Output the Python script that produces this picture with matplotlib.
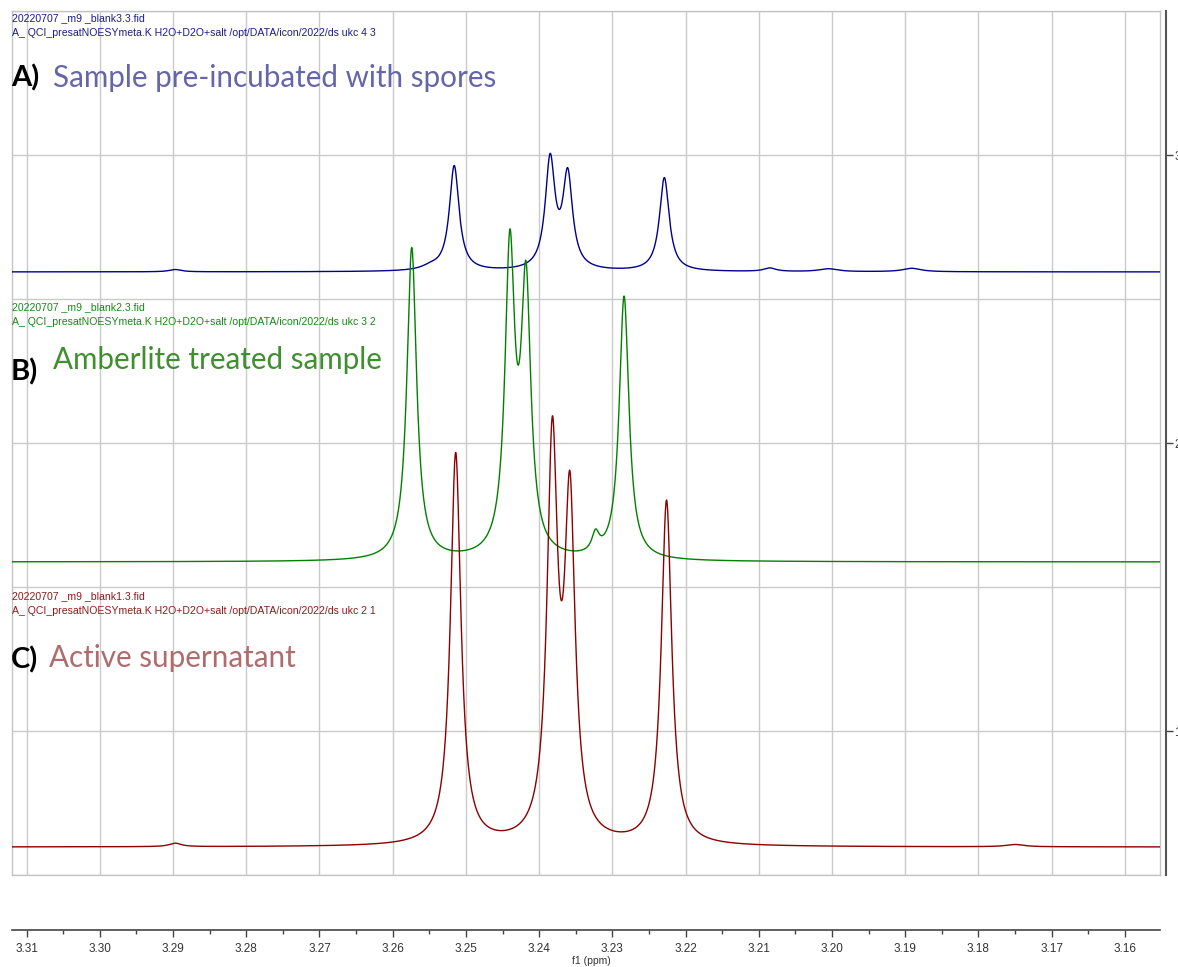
import numpy as np
import matplotlib
matplotlib.use("Agg")
import matplotlib.pyplot as plt
from matplotlib.ticker import FixedLocator, MultipleLocator

W, H = 1178, 967

# ---- axis settings -------------------------------------------------------
ppm_left, ppm_right = 3.3120, 3.1552
y_low, y_high = 0.5, 3.5
x_ticks = [3.31, 3.30, 3.29, 3.28, 3.27, 3.26, 3.25, 3.24, 3.23, 3.22,
           3.21, 3.20, 3.19, 3.18, 3.17, 3.16]
x_tick_labels = ["3.31", "3.30", "3.29", "3.28", "3.27", "3.26", "3.25", "3.24",
                 "3.23", "3.22", "3.21", "3.20", "3.19", "3.18", "3.17", "3.16"]
y_ticks = [1, 2, 3]
y_tick_labels = ["1", "2", "3"]

# ---- peak tables: centre (ppm), height, linewidth FWHM (ppm) ---------------
# A) sample pre-incubated with spores (blank3)
a_offset = 2.594
a_centres = [3.2516, 3.2385, 3.2361, 3.2229, 3.2548, 3.2085, 3.2005, 3.1891, 3.2897]
a_heights = [0.365, 0.377, 0.322, 0.325, 0.012, 0.012, 0.010, 0.012, 0.008]
a_widths = [0.0016, 0.0016, 0.0016, 0.0016, 0.0030, 0.0020, 0.0030, 0.0030, 0.0020]

# B) Amberlite treated sample (blank2)
b_offset = 1.587
b_centres = [3.2574, 3.2440, 3.2418, 3.2284, 3.2323]
b_heights = [1.085, 1.042, 0.918, 0.915, 0.065]
b_widths = [0.0016, 0.0016, 0.0016, 0.0016, 0.0012]

# C) active supernatant (blank1)
c_offset = 0.597
c_centres = [3.2514, 3.2382, 3.2358, 3.2226, 3.2897, 3.1750]
c_heights = [1.360, 1.357, 1.143, 1.195, 0.012, 0.008]
c_widths = [0.00172, 0.00172, 0.00172, 0.00172, 0.0020, 0.0030]

# ---- styling ---------------------------------------------------------------
line_colors = ["#00008b", "#008000", "#8b0000"]
header_colors = ["#1c1c8e", "#178a17", "#8e1a1a"]
title_colors = ["#6466a9", "#3f8f2f", "#b06c6c"]
file_names = ["20220707 _m9 _blank3.3.fid", "20220707 _m9 _blank2.3.fid",
              "20220707 _m9 _blank1.3.fid"]
acq_lines = ["A_ QCI_presatNOESYmeta.K H2O+D2O+salt /opt/DATA/icon/2022/ds ukc 4 3",
             "A_ QCI_presatNOESYmeta.K H2O+D2O+salt /opt/DATA/icon/2022/ds ukc 3 2",
             "A_ QCI_presatNOESYmeta.K H2O+D2O+salt /opt/DATA/icon/2022/ds ukc 2 1"]
panel_letters = ["A)", "B)", "C)"]
panel_titles = ["Sample pre-incubated with spores", "Amberlite treated sample",
                "Active supernatant"]
sans = ["Liberation Sans", "DejaVu Sans"]
title_font = ["Lato", "DejaVu Sans"]


def lorentz_sum(x, offset, centres, heights, widths):
    y = np.full_like(x, offset)
    for c, h, w in zip(centres, heights, widths):
        y += h / (1.0 + ((x - c) / (w / 2.0)) ** 2)
    return y


def fx(px):
    return px / W


def fy(py):
    return 1.0 - py / H


fig = plt.figure(figsize=(W / 100, H / 100), dpi=100)
fig.patch.set_facecolor("white")

# main spectrum panel
ax = fig.add_axes([fx(12), fy(875), fx(1160) - fx(12), fy(11) - fy(875)])
ax.set_xlim(ppm_left, ppm_right)
ax.set_ylim(y_low, y_high)
ax.xaxis.set_major_locator(FixedLocator(x_ticks))
ax.yaxis.set_major_locator(MultipleLocator(0.5))
ax.tick_params(left=False, bottom=False, labelleft=False, labelbottom=False)
ax.grid(True, color="#cacaca", linewidth=1.0)
ax.set_axisbelow(True)
for s in ax.spines.values():
    s.set_color("#c4c4c4")
    s.set_linewidth(1.0)

ppm = np.linspace(ppm_left, ppm_right, 6000)
spectra = [
    lorentz_sum(ppm, a_offset, a_centres, a_heights, a_widths),
    lorentz_sum(ppm, b_offset, b_centres, b_heights, b_widths),
    lorentz_sum(ppm, c_offset, c_centres, c_heights, c_widths),
]
for spec, col in zip(spectra, line_colors):
    ax.plot(ppm, spec, color=col, linewidth=1.0, zorder=3)

# bottom chemical-shift scale
axb = fig.add_axes([fx(12), fy(930), fx(1160) - fx(12), 0.0001])
axb.set_xlim(ppm_left, ppm_right)
axb.set_yticks([])
for k in ("left", "right", "top"):
    axb.spines[k].set_visible(False)
axb.spines["bottom"].set_color("#444444")
axb.spines["bottom"].set_linewidth(1.2)
axb.xaxis.set_major_locator(FixedLocator(x_ticks))
axb.set_xticklabels(x_tick_labels)
axb.xaxis.set_minor_locator(MultipleLocator(0.005))
axb.tick_params(axis="x", which="major", direction="out", length=5, width=1.0,
                color="#444444", labelsize=8.5, labelcolor="#333333", pad=4)
axb.tick_params(axis="x", which="minor", direction="out", length=3, width=1.0,
                color="#444444")
for lab in axb.get_xticklabels():
    lab.set_fontfamily(sans)
fig.text(fx(591), fy(961), "f1 (ppm)", fontsize=7.5, color="#333333",
         ha="center", va="center", family=sans)

# right-hand intensity scale
axr = fig.add_axes([fx(1100), fy(875), fx(1166) - fx(1100), fy(11) - fy(875)])
axr.set_ylim(y_low, y_high)
axr.set_xticks([])
axr.patch.set_visible(False)
for k in ("left", "top", "bottom"):
    axr.spines[k].set_visible(False)
axr.spines["right"].set_color("#555555")
axr.spines["right"].set_linewidth(1.5)
axr.yaxis.tick_right()
axr.yaxis.set_major_locator(FixedLocator(y_ticks))
axr.set_yticklabels(y_tick_labels)
axr.tick_params(axis="y", direction="out", length=5, width=1.0, color="#444444",
                labelsize=8.5, labelcolor="#333333", pad=1)
for lab in axr.get_yticklabels():
    lab.set_fontfamily(sans)

# dataset headers and panel titles
header_y = [18, 307, 596]
title_y = [78, 360, 658]
letter_y = [78, 372, 660]
title_x = [53, 53, 49]
for i in range(3):
    fig.text(fx(12), fy(header_y[i]), file_names[i], fontsize=7.6,
             color=header_colors[i], ha="left", va="center", family=sans)
    fig.text(fx(12), fy(header_y[i] + 15), acq_lines[i], fontsize=7.6,
             color=header_colors[i], ha="left", va="center", family=sans)
    fig.text(fx(11), fy(letter_y[i]), panel_letters[i], fontsize=21, fontweight="bold",
             color="black", ha="left", va="center", family=title_font)
    fig.text(fx(title_x[i]), fy(title_y[i]), panel_titles[i], fontsize=21.3,
             color=title_colors[i], ha="left", va="center", family=title_font)

fig.savefig("out.png", dpi=100, facecolor="white")
